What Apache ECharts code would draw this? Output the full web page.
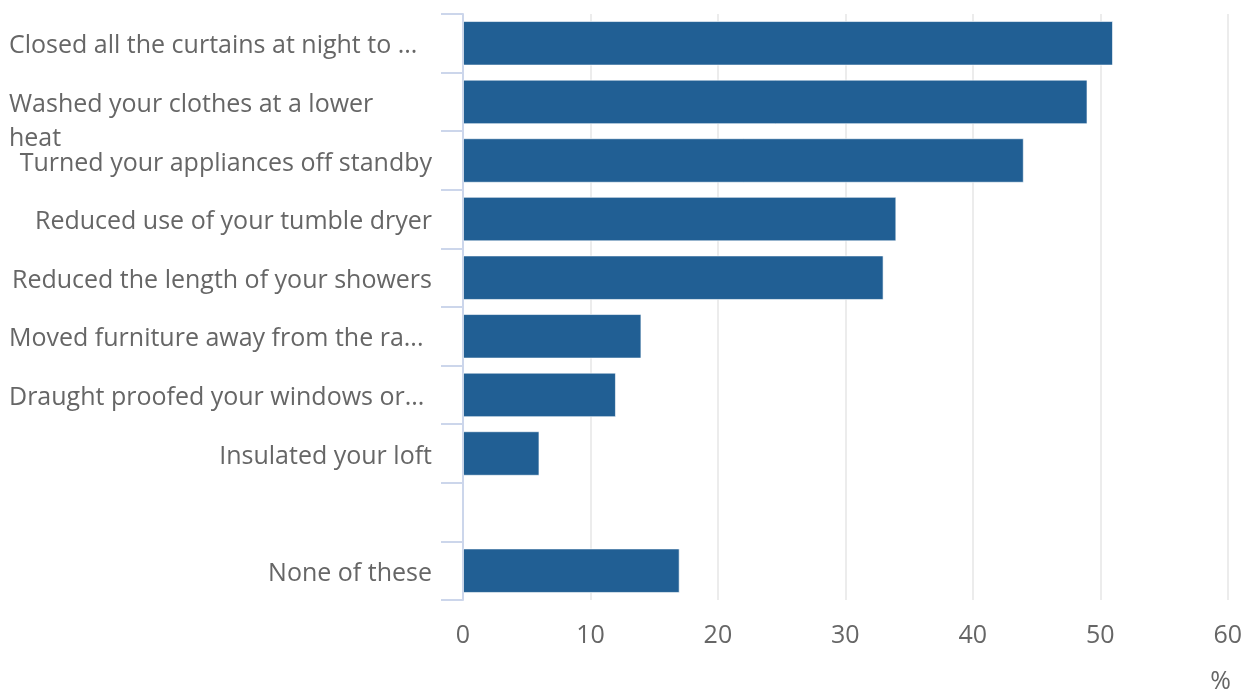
<!DOCTYPE html>
<html>
<head>
<meta charset="utf-8">
<script src="https://cdn.jsdelivr.net/npm/echarts@6/dist/echarts.min.js"></script>
<style>
html,body{margin:0;padding:0;background:#fff;}
#chart{width:1245px;height:691px;}
</style>
</head>
<body>
<div id="chart"></div>
<script>
const categories = [
  'Closed all the curtains at night to ...',
  'Washed your clothes at a lower heat',
  'Turned your appliances off standby',
  'Reduced use of your tumble dryer',
  'Reduced the length of your showers',
  'Moved furniture away from the ra...',
  'Draught proofed your windows or...',
  'Insulated your loft',
  '',
  'None of these'
];
const values = [51, 49, 44, 34, 33, 14, 12, 6, null, 17];
const xTicks = [0, 10, 20, 30, 40, 50, 60];
const axisUnit = '%';

const FS = 25;
const chart = echarts.init(document.getElementById('chart'));
chart.setOption({
  animation: false,
  textStyle: { fontFamily: 'Open Sans' },
  grid: { left: 463, right: 15, top: 14, bottom: 91, containLabel: false },
  title: {
    text: axisUnit,
    right: 9,
    top: 664,
    textStyle: { fontFamily: 'Open Sans', fontSize: FS, fontWeight: 'normal', color: '#666666' }
  },
  xAxis: {
    type: 'value',
    min: xTicks[0],
    max: xTicks[xTicks.length - 1],
    interval: xTicks[1] - xTicks[0],
    axisLine: { show: false },
    axisTick: { show: false },
    splitLine: { show: true, lineStyle: { color: '#e6e6e6', width: 1.5 } },
    axisLabel: { color: '#666666', fontSize: FS, margin: 23, fontFamily: 'Open Sans' }
  },
  yAxis: {
    type: 'category',
    inverse: true,
    data: categories,
    axisLine: { show: true, onZero: false, lineStyle: { color: '#ccd6eb', width: 2 } },
    axisTick: { show: true, length: 22, interval: 0, alignWithLabel: false, lineStyle: { color: '#ccd6eb', width: 2 } },
    splitLine: { show: false },
    axisLabel: {
      interval: 0,
      hideOverlap: false,
      color: '#666666',
      fontSize: FS,
      fontFamily: 'Open Sans',
      margin: 31,
      lineHeight: 34,
      padding: [6, 0, 0, 0],
      formatter: function (v) {
        if (v === 'Washed your clothes at a lower heat') {
          return '{l| }\n{l|Washed your clothes at a lower}\n{l|heat}';
        }
        if (v.endsWith('...')) {
          return '{l|' + v + '}';
        }
        return v;
      },
      rich: {
        l: { width: 423, align: 'left', color: '#666666', fontSize: FS, fontFamily: 'Open Sans', lineHeight: 34 }
      }
    }
  },
  series: [{
    type: 'bar',
    data: values,
    barCategoryGap: '24%',
    itemStyle: { color: '#215f94', borderColor: 'rgba(255,255,255,0.6)', borderWidth: 1 }
  }]
});
</script>
</body>
</html>
